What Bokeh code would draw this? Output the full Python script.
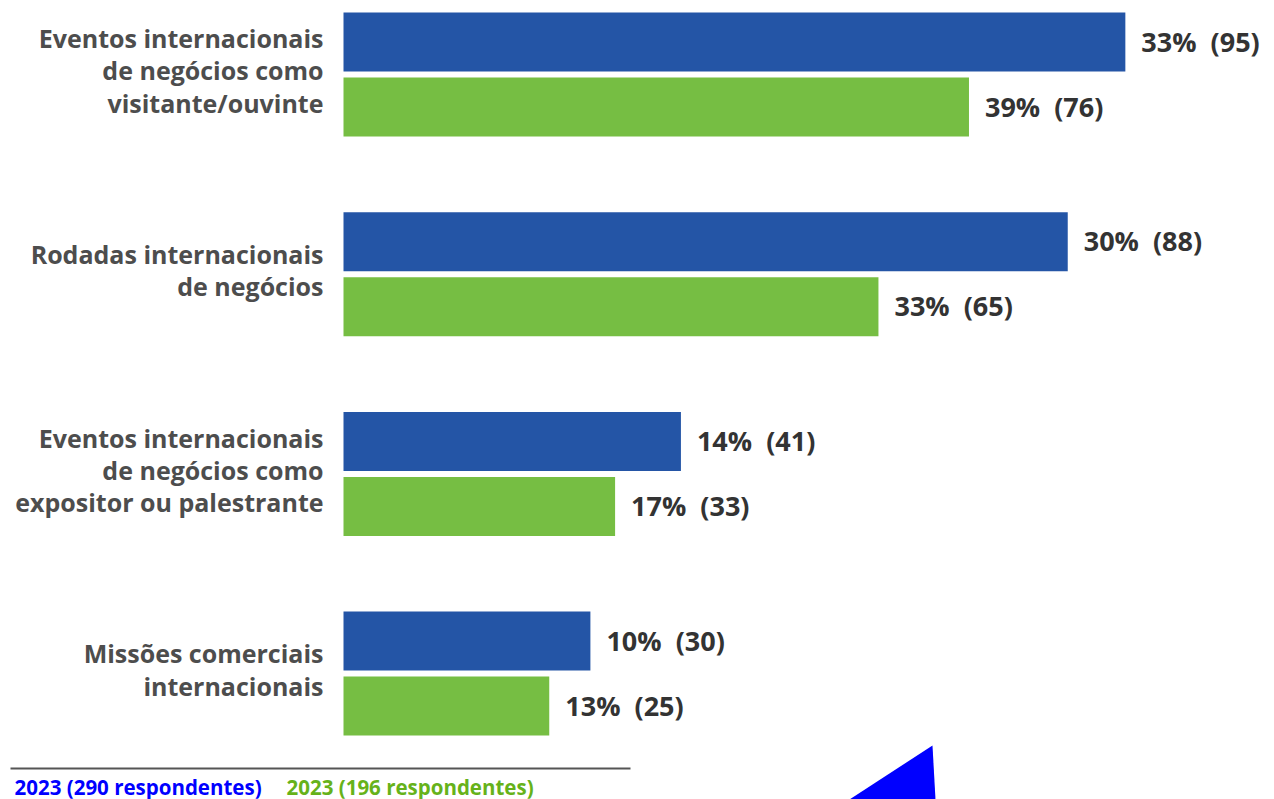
from bokeh.plotting import figure
from bokeh.models import Range1d, ColumnDataSource
from bokeh.core.properties import value
from bokeh.embed import file_html
from bokeh.resources import INLINE

# ---- data ----
categories = [
    "Eventos internacionais\nde negócios como\nvisitante/ouvinte",
    "Rodadas internacionais\nde negócios",
    "Eventos internacionais\nde negócios como\nexpositor ou palestrante",
    "Missões comerciais\ninternacionais",
]
pct_2023a = [33, 30, 14, 10]
cnt_2023a = [95, 88, 41, 30]
pct_2023b = [39, 33, 17, 13]
cnt_2023b = [76, 65, 33, 25]
legend_labels = ["2023 (290 respondentes)", "2023 (196 respondentes)"]

# ---- layout constants (pixels) ----
W, H = 1274, 799
X0 = 343            # pixel where zero sits
K = 8.23            # pixels per respondent
TOP = 12
GROUP_STEP = 199.7
BAR_H = 59
BAR_STEP = 65

BLUE = "#2455a6"
GREEN = "#76be43"
LBL = "#4d4d4d"
VAL = "#333333"
FONT = "Open Sans"

def px2x(px):
    return (px - X0) / K

p = figure(width=W, height=H, output_backend="svg", toolbar_location=None,
           x_range=Range1d(px2x(0), px2x(W)), y_range=Range1d(H, 0),
           min_border=0, min_border_left=0, min_border_right=0,
           min_border_top=0, min_border_bottom=0)
p.axis.visible = False
p.grid.visible = False
p.outline_line_color = None
p.background_fill_color = "white"
p.border_fill_color = "white"

n = len(categories)
yb = [TOP + i * GROUP_STEP + BAR_H / 2 for i in range(n)]
yg = [y + BAR_STEP for y in yb]
ymid = [(a + b) / 2 - 4 for a, b in zip(yb, yg)]

src_b = ColumnDataSource(dict(y=yb, right=cnt_2023a,
                              lab=[f"{a}%\u00a0 ({b})" for a, b in zip(pct_2023a, cnt_2023a)]))
src_g = ColumnDataSource(dict(y=yg, right=cnt_2023b,
                              lab=[f"{a}%\u00a0 ({b})" for a, b in zip(pct_2023b, cnt_2023b)]))

p.hbar(y="y", left=0, right="right", height=BAR_H, source=src_b,
       fill_color=BLUE, line_color=None)
p.hbar(y="y", left=0, right="right", height=BAR_H, source=src_g,
       fill_color=GREEN, line_color=None)

for src in (src_b, src_g):
    p.text(x="right", y="y", text="lab", source=src, x_offset=16, y_offset=-1,
           text_font=value(FONT), text_font_style="bold", text_font_size="27px",
           text_color=VAL, text_align="left", text_baseline="middle")

p.text(x=[px2x(323)] * n, y=ymid, text=categories,
       text_font=value(FONT), text_font_style="bold", text_font_size="25px",
       text_color=LBL, text_align="right", text_baseline="middle",
       text_line_height=0.95)

# separator line
p.line(x=[px2x(10), px2x(630)], y=[768, 768], line_color="#555555", line_width=2)

# legend texts
p.text(x=[px2x(14)], y=[786], text=[legend_labels[0]],
       text_font=value(FONT), text_font_style="bold", text_font_size="20.5px",
       text_color="#0000ff", text_align="left", text_baseline="middle")
p.text(x=[px2x(286)], y=[786], text=[legend_labels[1]],
       text_font=value(FONT), text_font_style="bold", text_font_size="20.5px",
       text_color="#66b21a", text_align="left", text_baseline="middle")

# decorative triangle
p.patch(x=[px2x(849), px2x(932), px2x(935)], y=[799, 745, 799],
        fill_color="#0000ff", line_color=None)

open("out.html", "w").write(file_html(p, INLINE))
